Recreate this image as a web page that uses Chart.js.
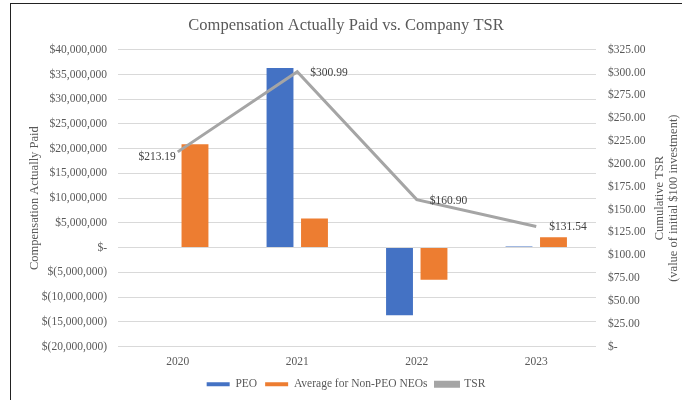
<!DOCTYPE html>
<html>
<head>
<meta charset="utf-8">
<script src="https://cdn.jsdelivr.net/npm/chart.js@4.4.1/dist/chart.umd.min.js"></script>
<style>
  body { margin: 0; background: #fff; }
  .frame { position: relative; width: 682px; height: 400px; }
  .frame::before {
    content: ""; position: absolute; left: 10px; top: 3px; right: 0; bottom: 0;
    border-top: 1px solid #222; border-left: 1px solid #222; pointer-events: none;
  }
</style>
</head>
<body>
<div class="frame">
  <canvas id="capChart" width="682" height="400"></canvas>
</div>
<script>
const years = ['2020', '2021', '2022', '2023'];
const peoCap = [0, 36300000, -13700000, 200000];
const neoCap = [20900000, 5900000, -6500000, 2100000];
const tsr = [213.19, 300.99, 160.90, 131.54];

const FONT = 'Liberation Serif, Times New Roman, serif';
const TEXT = '#595959';

function money(v) {
  if (v === 0) return '$-';
  const s = Math.abs(v).toLocaleString('en-US');
  return v < 0 ? '$(' + s + ')' : '$' + s;
}

// TSR value labels, placed like the Excel ones (left of first point, right of the rest)
const tsrLabels = {
  id: 'tsrLabels',
  afterDatasetsDraw(chart) {
    const meta = chart.getDatasetMeta(2);
    const ctx = chart.ctx;
    ctx.save();
    ctx.font = '11.5px ' + FONT;
    ctx.fillStyle = '#404040';
    ctx.textBaseline = 'middle';
    meta.data.forEach(function(pt, i) {
      const txt = '$' + tsr[i].toFixed(2);
      if (i === 0) {
        ctx.textAlign = 'right';
        ctx.fillText(txt, pt.x - 2, pt.y + 5);
      } else {
        ctx.textAlign = 'left';
        ctx.fillText(txt, pt.x + 13, pt.y + 1);
      }
    });
    ctx.restore();
  }
};

// right axis title reads bottom-to-top like the left one
const rightTitle = {
  id: 'rightTitle',
  afterDraw(chart) {
    const area = chart.chartArea;
    const ctx = chart.ctx;
    const cy = (area.top + area.bottom) / 2;
    ctx.save();
    ctx.font = '12.5px ' + FONT;
    ctx.fillStyle = TEXT;
    ctx.textAlign = 'center';
    ctx.textBaseline = 'middle';
    ctx.translate(660, cy);
    ctx.rotate(-Math.PI / 2);
    ctx.fillText('Cumulative TSR', 0, 0);
    ctx.fillText('(value of initial $100 investment)', 0, 14);
    ctx.restore();
  }
};

const ctx = document.getElementById('capChart').getContext('2d');
new Chart(ctx, {
  data: {
    labels: years,
    datasets: [
      {
        type: 'bar',
        label: 'PEO',
        data: peoCap,
        backgroundColor: '#4472C4',
        borderWidth: 0,
        yAxisID: 'y',
        order: 1,
        categoryPercentage: 0.577,
        barPercentage: 0.78
      },
      {
        type: 'bar',
        label: 'Average for Non-PEO NEOs',
        data: neoCap,
        backgroundColor: '#ED7D31',
        borderWidth: 0,
        yAxisID: 'y',
        order: 1,
        categoryPercentage: 0.577,
        barPercentage: 0.78
      },
      {
        type: 'line',
        label: 'TSR',
        data: tsr,
        borderColor: '#A5A5A5',
        backgroundColor: '#A5A5A5',
        borderWidth: 3,
        pointRadius: 0,
        tension: 0,
        yAxisID: 'y1',
        order: 0
      }
    ]
  },
  options: {
    responsive: false,
    animation: false,
    layout: { padding: { left: 10, right: 0, top: 0, bottom: 0 } },
    plugins: {
      title: {
        display: true,
        text: 'Compensation Actually Paid vs. Company TSR',
        font: { family: FONT, size: 16.5, weight: 'normal' },
        color: TEXT,
        padding: { top: 16, bottom: 14 }
      },
      legend: {
        position: 'bottom',
        labels: {
          font: { family: FONT, size: 11.5 },
          color: TEXT,
          boxWidth: 23,
          boxHeight: 4,
          padding: 8,
          sort: function(a, b) { return a.datasetIndex - b.datasetIndex; }
        }
      },
      tooltip: { enabled: false }
    },
    scales: {
      x: {
        grid: { display: false, drawTicks: false },
        border: { display: false },
        ticks: { font: { family: FONT, size: 11.5 }, color: TEXT, padding: 9 },
        afterFit: function(scale) { scale.height = 24; }
      },
      y: {
        position: 'left',
        min: -20000000,
        max: 40000000,
        ticks: {
          stepSize: 5000000,
          font: { family: FONT, size: 11.5 },
          color: TEXT,
          padding: 11,
          callback: function(v) { return money(v); }
        },
        grid: { color: '#D9D9D9', drawTicks: false },
        border: { display: false },
        title: {
          display: true,
          text: 'Compensation Actually Paid',
          font: { family: FONT, size: 12.5 },
          color: TEXT,
          padding: { top: 17, bottom: 0 }
        },
        afterFit: function(scale) { scale.width = 108; }
      },
      y1: {
        position: 'right',
        min: 0,
        max: 325,
        ticks: {
          stepSize: 25,
          font: { family: FONT, size: 11.5 },
          color: TEXT,
          padding: 12,
          callback: function(v) { return v === 0 ? '$-' : '$' + v.toFixed(2); }
        },
        grid: { display: false, drawTicks: false },
        border: { display: false },
        afterFit: function(scale) { scale.width = 86; }
      }
    }
  },
  plugins: [tsrLabels, rightTitle]
});
</script>
</body>
</html>
